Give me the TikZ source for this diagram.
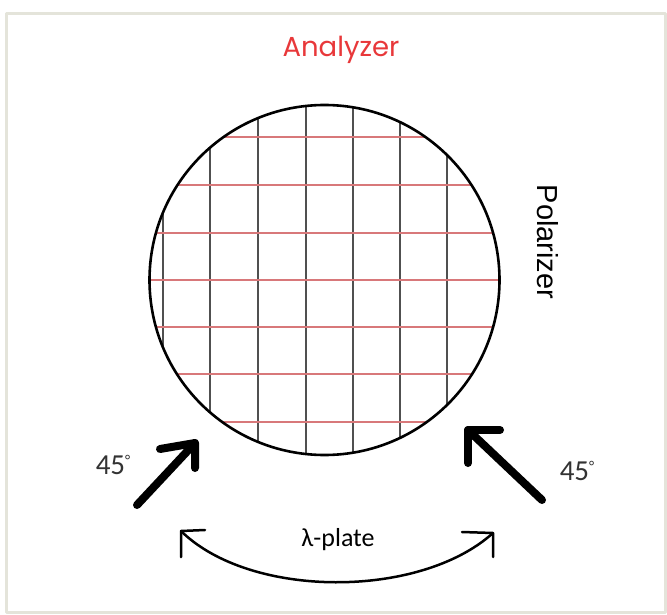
\documentclass[tikz,border=0pt]{standalone}
\usepackage{fontspec}
\setmainfont{Liberation Sans}
\newfontfamily\gothicfont{Poppins}
\newfontfamily\calfont{Carlito}
\definecolor{analyzerred}{HTML}{E8383A}
\definecolor{gridred}{HTML}{D8787A}
\definecolor{gridgray}{HTML}{505050}
\definecolor{framegray}{HTML}{E4E4DA}
\definecolor{darktext}{HTML}{333333}
\newcommand{\smalldeg}{\raisebox{9pt}{\fontsize{15}{15}\selectfont °}}

\begin{document}
\begin{tikzpicture}[x=1pt,y=-1pt,line cap=round,line join=round,
  bigarrow/.style={line width=8pt},
  bendarrow/.style={line width=2.5pt}]
\useasboundingbox (0,0) rectangle (667,615);
\draw[framegray,line width=3pt] (6,14) rectangle (665,612);
% the disc with its two line sets
\node[circle,minimum size=350pt,inner sep=0pt] (disc) at (324.5,280) {};
\begin{scope}
\clip (disc.center) circle (175pt);
\foreach \x in {163,210,258,306,353,400,447} {\draw[gridgray,line width=1.2pt] (\x,100) -- (\x,460);}
\foreach \y in {137,185,233,280,327,374,422} {\draw[gridred,line width=1.2pt] (145,\y) -- (505,\y);}
\end{scope}
\draw[line width=2.6pt] (disc.center) circle (175pt);
\node[text=analyzerred,font=\gothicfont\fontsize{27.5}{32}\selectfont] (analyzer) at (341,50) {Analyzer};
\node[rotate=-90,font=\fontsize{29}{34}\selectfont] (polarizer) at (548,242) {Polarizer};
% thick arrows
\coordinate (ltail) at (137,505);
\coordinate (ltip) at (195,443);
\coordinate (rtail) at (542,500);
\coordinate (rtip) at (468,430);
\draw[bigarrow] (ltail) -- (ltip);
\draw[bigarrow] (ltip) ++(-35,6) -- (ltip) -- ++(0,25);
\draw[bigarrow] (rtail) -- (rtip);
\draw[bigarrow] (rtip) ++(32,0) -- (rtip) -- ++(0,33);
\node[text=darktext,font=\calfont\fontsize{29}{32}\selectfont] (langle) at (113,465) {45\smalldeg};
\node[text=darktext,font=\calfont\fontsize{29}{32}\selectfont] (rangle) at (577,471) {45\smalldeg};
% plate rotation
\coordinate (bl) at (181,531);
\coordinate (br) at (493,533);
\draw[bendarrow] (bl) .. controls (250,599) and (420,599) .. (br);
\draw[bendarrow] (bl) ++(24,-1) -- (bl) -- ++(0,26);
\draw[bendarrow] (br) ++(-31,-1) -- (br) -- ++(0,24);
\node[font=\calfont\fontsize{26}{30}\selectfont] (plate) at (338,540) {λ-plate};
\end{tikzpicture}
\end{document}
